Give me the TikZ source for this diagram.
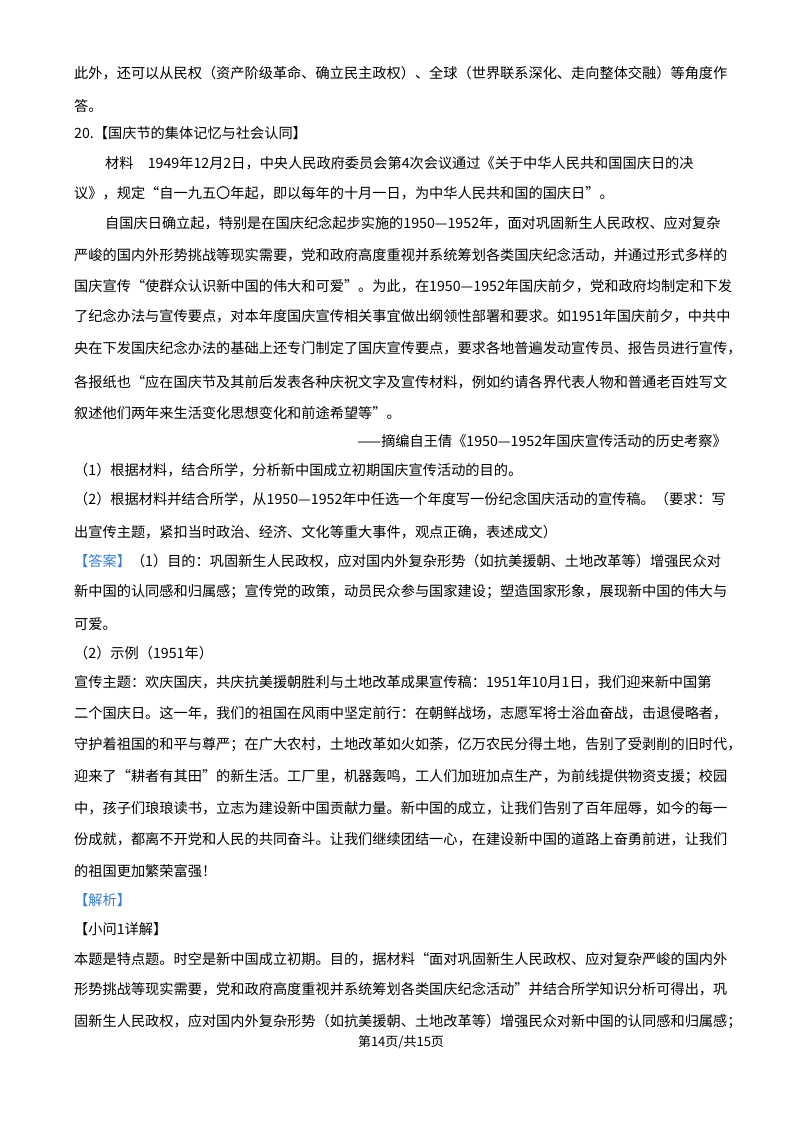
\documentclass[tikz,border=0pt]{standalone}
\usepackage{fontspec}
\setmainfont{Noto Sans CJK SC}
\definecolor{ansblue}{HTML}{3A7CC9}
\begin{document}
\begin{tikzpicture}[x=1pt,y=-1pt,
  ln/.style={anchor=west,inner sep=0pt,font=\fontsize{14.2}{16}\selectfont},
  lr/.style={anchor=east,inner sep=0pt,font=\fontsize{14.2}{16}\selectfont}]
\fill[white] (0,0) rectangle (800,1132);
\useasboundingbox (0,0) rectangle (800,1132);
\node[ln] (l1) at (74,73) {此外，还可以从民权（资产阶级革命、确立民主政权）、全球（世界联系深化、走向整体交融）等角度作};
\node[ln] (l2) at (74,106) {答。};
\node[ln] (l3) at (74,133) {20.【国庆节的集体记忆与社会认同】};
\node[ln] (l4) at (105,163) {材料\quad 1949年12月2日，中央人民政府委员会第4次会议通过《关于中华人民共和国国庆日的决};
\node[ln] (l5) at (74,193) {议》，规定“自一九五〇年起，即以每年的十月一日，为中华人民共和国的国庆日”。};
\node[ln] (l6) at (105,223) {自国庆日确立起，特别是在国庆纪念起步实施的1950—1952年，面对巩固新生人民政权、应对复杂};
\node[ln] (l7) at (74,255) {严峻的国内外形势挑战等现实需要，党和政府高度重视并系统筹划各类国庆纪念活动，并通过形式多样的};
\node[ln] (l8) at (74,286) {国庆宣传“使群众认识新中国的伟大和可爱”。为此，在1950—1952年国庆前夕，党和政府均制定和下发};
\node[ln] (l9) at (74,316) {了纪念办法与宣传要点，对本年度国庆宣传相关事宜做出纲领性部署和要求。如1951年国庆前夕，中共中};
\node[ln] (l10) at (74,348) {央在下发国庆纪念办法的基础上还专门制定了国庆宣传要点，要求各地普遍发动宣传员、报告员进行宣传，};
\node[ln] (l11) at (74,382) {各报纸也“应在国庆节及其前后发表各种庆祝文字及宣传材料，例如约请各界代表人物和普通老百姓写文};
\node[ln] (l12) at (74,413) {叙述他们两年来生活变化思想变化和前途希望等”。};
\node[lr] (l13) at (727,441) {——摘编自王倩《1950—1952年国庆宣传活动的历史考察》};
\node[ln] (l14) at (74,470) {（1）根据材料，结合所学，分析新中国成立初期国庆宣传活动的目的。};
\node[ln] (l15) at (74,499) {（2）根据材料并结合所学，从1950—1952年中任选一个年度写一份纪念国庆活动的宣传稿。（要求：写};
\node[ln] (l16) at (74,532) {出宣传主题，紧扣当时政治、经济、文化等重大事件，观点正确，表述成文）};
\node[ln] (l17) at (74,561) {\textcolor{ansblue}{【答案】}（1）目的：巩固新生人民政权，应对国内外复杂形势（如抗美援朝、土地改革等）增强民众对};
\node[ln] (l18) at (74,592) {新中国的认同感和归属感；宣传党的政策，动员民众参与国家建设；塑造国家形象，展现新中国的伟大与};
\node[ln] (l19) at (74,624) {可爱。};
\node[ln] (l20) at (74,653) {（2）示例（1951年）};
\node[ln] (l21) at (74,682) {宣传主题：欢庆国庆，共庆抗美援朝胜利与土地改革成果宣传稿：1951年10月1日，我们迎来新中国第};
\node[ln] (l22) at (74,713) {二个国庆日。这一年，我们的祖国在风雨中坚定前行：在朝鲜战场，志愿军将士浴血奋战，击退侵略者，};
\node[ln] (l23) at (74,745) {守护着祖国的和平与尊严；在广大农村，土地改革如火如荼，亿万农民分得土地，告别了受剥削的旧时代，};
\node[ln] (l24) at (74,777) {迎来了“耕者有其田”的新生活。工厂里，机器轰鸣，工人们加班加点生产，为前线提供物资支援；校园};
\node[ln] (l25) at (74,808) {中，孩子们琅琅读书，立志为建设新中国贡献力量。新中国的成立，让我们告别了百年屈辱，如今的每一};
\node[ln] (l26) at (74,839) {份成就，都离不开党和人民的共同奋斗。让我们继续团结一心，在建设新中国的道路上奋勇前进，让我们};
\node[ln] (l27) at (74,871) {的祖国更加繁荣富强！};
\node[ln,text=ansblue] (l28) at (74,900) {【解析】};
\node[ln] (l29) at (74,929) {【小问1详解】};
\node[ln] (l30) at (74,959) {本题是特点题。时空是新中国成立初期。目的，据材料“面对巩固新生人民政权、应对复杂严峻的国内外};
\node[ln] (l31) at (74,989) {形势挑战等现实需要，党和政府高度重视并系统筹划各类国庆纪念活动”并结合所学知识分析可得出，巩};
\node[ln] (l32) at (74,1022) {固新生人民政权，应对国内外复杂形势（如抗美援朝、土地改革等）增强民众对新中国的认同感和归属感；};
\node[anchor=center,inner sep=0pt,font=\fontsize{13}{15}\selectfont] (ft) at (401,1042) {第14页/共15页};
\end{tikzpicture}
\end{document}
